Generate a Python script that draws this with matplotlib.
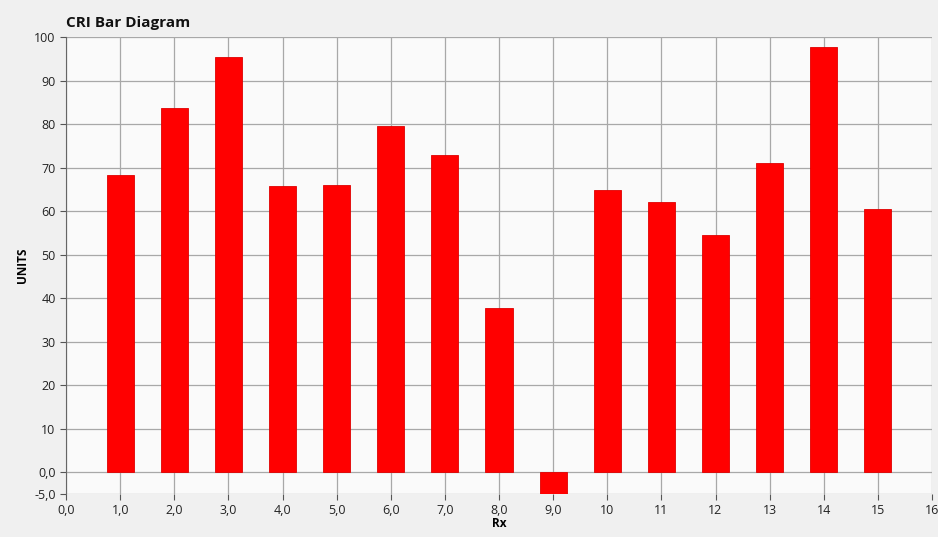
import matplotlib
matplotlib.use('Agg')
import matplotlib.pyplot as plt

# valores
rx = [1, 2, 3, 4, 5, 6, 7, 8, 9, 10, 11, 12, 13, 14, 15]
units = [68.4, 83.7, 95.3, 65.8, 66.0, 79.5, 73.0, 37.8, -5.0,
         64.8, 62.0, 54.6, 71.0, 97.7, 60.5]

x_ticks = list(range(0, 17))
x_labels = ['0,0', '1,0', '2,0', '3,0', '4,0', '5,0', '6,0', '7,0', '8,0', '9,0',
            '10', '11', '12', '13', '14', '15', '16']
y_ticks = [-5, 0, 10, 20, 30, 40, 50, 60, 70, 80, 90, 100]
y_labels = ['-5,0', '0,0', '10', '20', '30', '40', '50', '60', '70', '80', '90', '100']

plt.rcParams['font.family'] = ['Open Sans', 'DejaVu Sans']

fig = plt.figure(figsize=(9.38, 5.37), dpi=100, facecolor='#f0f0f0')
ax = fig.add_axes([0.0704, 0.0801, 0.9232, 0.851])
ax.set_facecolor('#fafafa')

ax.bar(rx, units, width=0.5, color='#ff0000', edgecolor='#e00000', linewidth=0.6, zorder=3)

ax.set_xlim(0, 16)
ax.set_ylim(-5, 100)
ax.set_xticks(x_ticks)
ax.set_xticklabels(x_labels)
ax.set_yticks(y_ticks)
ax.set_yticklabels(y_labels)
ax.tick_params(axis='both', labelsize=9, color='#555555', length=4, direction='out',
               labelcolor='#222222')

ax.grid(True, color='#a8a8a8', linewidth=0.9, zorder=0)
for s in ['top', 'right']:
    ax.spines[s].set_visible(False)
ax.spines['left'].set_color('#666666')
ax.spines['bottom'].set_visible(False)

ax.set_xlabel('Rx', fontsize=8.5, fontweight='bold', labelpad=0)
ax.set_ylabel('UNITS', fontsize=8.5, fontweight='bold', labelpad=4)
fig.text(0.0704, 0.945, 'CRI Bar Diagram', fontsize=11, fontweight='bold',
         ha='left', va='bottom', color='#111111')

fig.savefig('out.png', dpi=100, facecolor=fig.get_facecolor())
